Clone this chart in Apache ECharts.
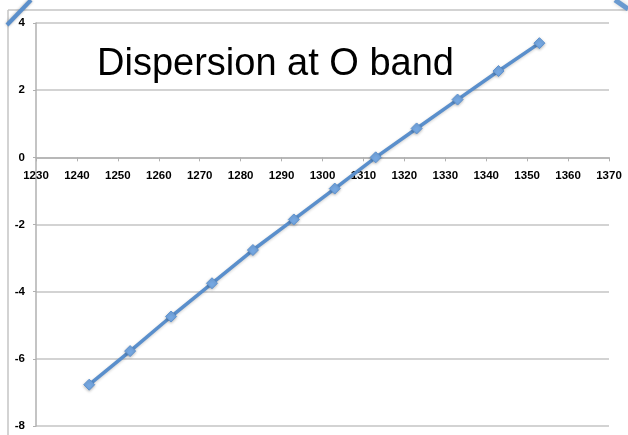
<!DOCTYPE html>
<html>
<head>
<meta charset="utf-8">
<script src="https://cdn.jsdelivr.net/npm/echarts@6/dist/echarts.min.js"></script>
<style>
html,body{margin:0;padding:0;background:#fff;}
#chart{width:628px;height:435px;}
</style>
</head>
<body>
<div id="chart"></div>
<script>
var titleText = 'Dispersion at O band';
var wavelengths = [1243, 1253, 1263, 1273, 1283, 1293, 1303, 1313, 1323, 1333, 1343, 1353];
var dispersion = [-6.77, -5.77, -4.74, -3.75, -2.76, -1.85, -0.93, 0.0, 0.86, 1.72, 2.57, 3.40];
var xRange = [1230, 1370, 10];
var yRange = [-8, 4, 2];

var gridTop = 23, gridBottom = 9, chartH = 435;
var plotH = chartH - gridTop - gridBottom;
// distance from the bottom of the plot up to the y = 0 line, used to place the x axis on zero
var zeroOffset = plotH * (0 - yRange[0]) / (yRange[1] - yRange[0]);

var chart = echarts.init(document.getElementById('chart'), null, {renderer: 'canvas'});
var seriesData = wavelengths.map(function (w, i) { return [w, dispersion[i]]; });
chart.setOption({
  backgroundColor: '#ffffff',
  animation: false,
  title: {
    text: titleText,
    left: 92,
    top: 41,
    textStyle: {fontFamily: 'Liberation Sans', fontSize: 38, fontWeight: 'normal', color: '#000'}
  },
  grid: {left: 36, right: 19, top: gridTop, bottom: gridBottom, containLabel: false, outerBoundsMode: 'none'},
  xAxis: {
    type: 'value',
    position: 'bottom',
    offset: -zeroOffset,
    min: xRange[0], max: xRange[1], interval: xRange[2],
    axisLine: {show: true, onZero: false, lineStyle: {color: '#b0b0b0', width: 1.5}},
    axisTick: {show: true, length: 4, lineStyle: {color: '#b0b0b0'}},
    axisLabel: {margin: 12, color: '#000', fontFamily: 'Liberation Sans', fontWeight: 'bold', fontSize: 11.5,
      formatter: function (v) { return String(v); }},
    splitLine: {show: false}
  },
  yAxis: {
    type: 'value',
    min: yRange[0], max: yRange[1], interval: yRange[2],
    axisLine: {show: true, onZero: false, lineStyle: {color: '#b0b0b0', width: 1.5}},
    axisTick: {show: true, length: 3, lineStyle: {color: '#b0b0b0'}},
    axisLabel: {margin: 11, color: '#000', fontFamily: 'Liberation Sans', fontWeight: 'bold', fontSize: 11.5,
      formatter: function (v) { return String(v); }},
    splitLine: {show: true, lineStyle: {color: '#c4c4c4', width: 1.5}}
  },
  series: [{
    type: 'line',
    data: seriesData,
    symbol: 'diamond',
    symbolSize: 11,
    lineStyle: {color: '#5a8fcc', width: 3.5, shadowColor: 'rgba(0,0,0,0.2)', shadowBlur: 3, shadowOffsetY: 1},
    itemStyle: {color: '#76a8e2', borderColor: '#5f93cf', borderWidth: 1, shadowColor: 'rgba(0,0,0,0.25)', shadowBlur: 3, shadowOffsetY: 1}
  }],
  graphic: [
    {type: 'line', shape: {x1: 8, y1: 10, x2: 628, y2: 10}, style: {stroke: '#c4c4c4', lineWidth: 1.5}, z: 1},
    {type: 'line', shape: {x1: 8, y1: 10, x2: 8, y2: 435}, style: {stroke: '#c4c4c4', lineWidth: 1.5}, z: 1},
    {type: 'line', shape: {x1: 7, y1: 25, x2: 31, y2: 0}, style: {stroke: '#5b8fcb', lineWidth: 4, shadowColor: 'rgba(0,0,0,0.3)', shadowBlur: 3}, z: 10},
    {type: 'line', shape: {x1: 615, y1: 0, x2: 628, y2: 9}, style: {stroke: '#6a9ad0', lineWidth: 5, shadowColor: 'rgba(0,0,0,0.2)', shadowBlur: 4}, z: 10}
  ]
});
</script>
</body>
</html>
